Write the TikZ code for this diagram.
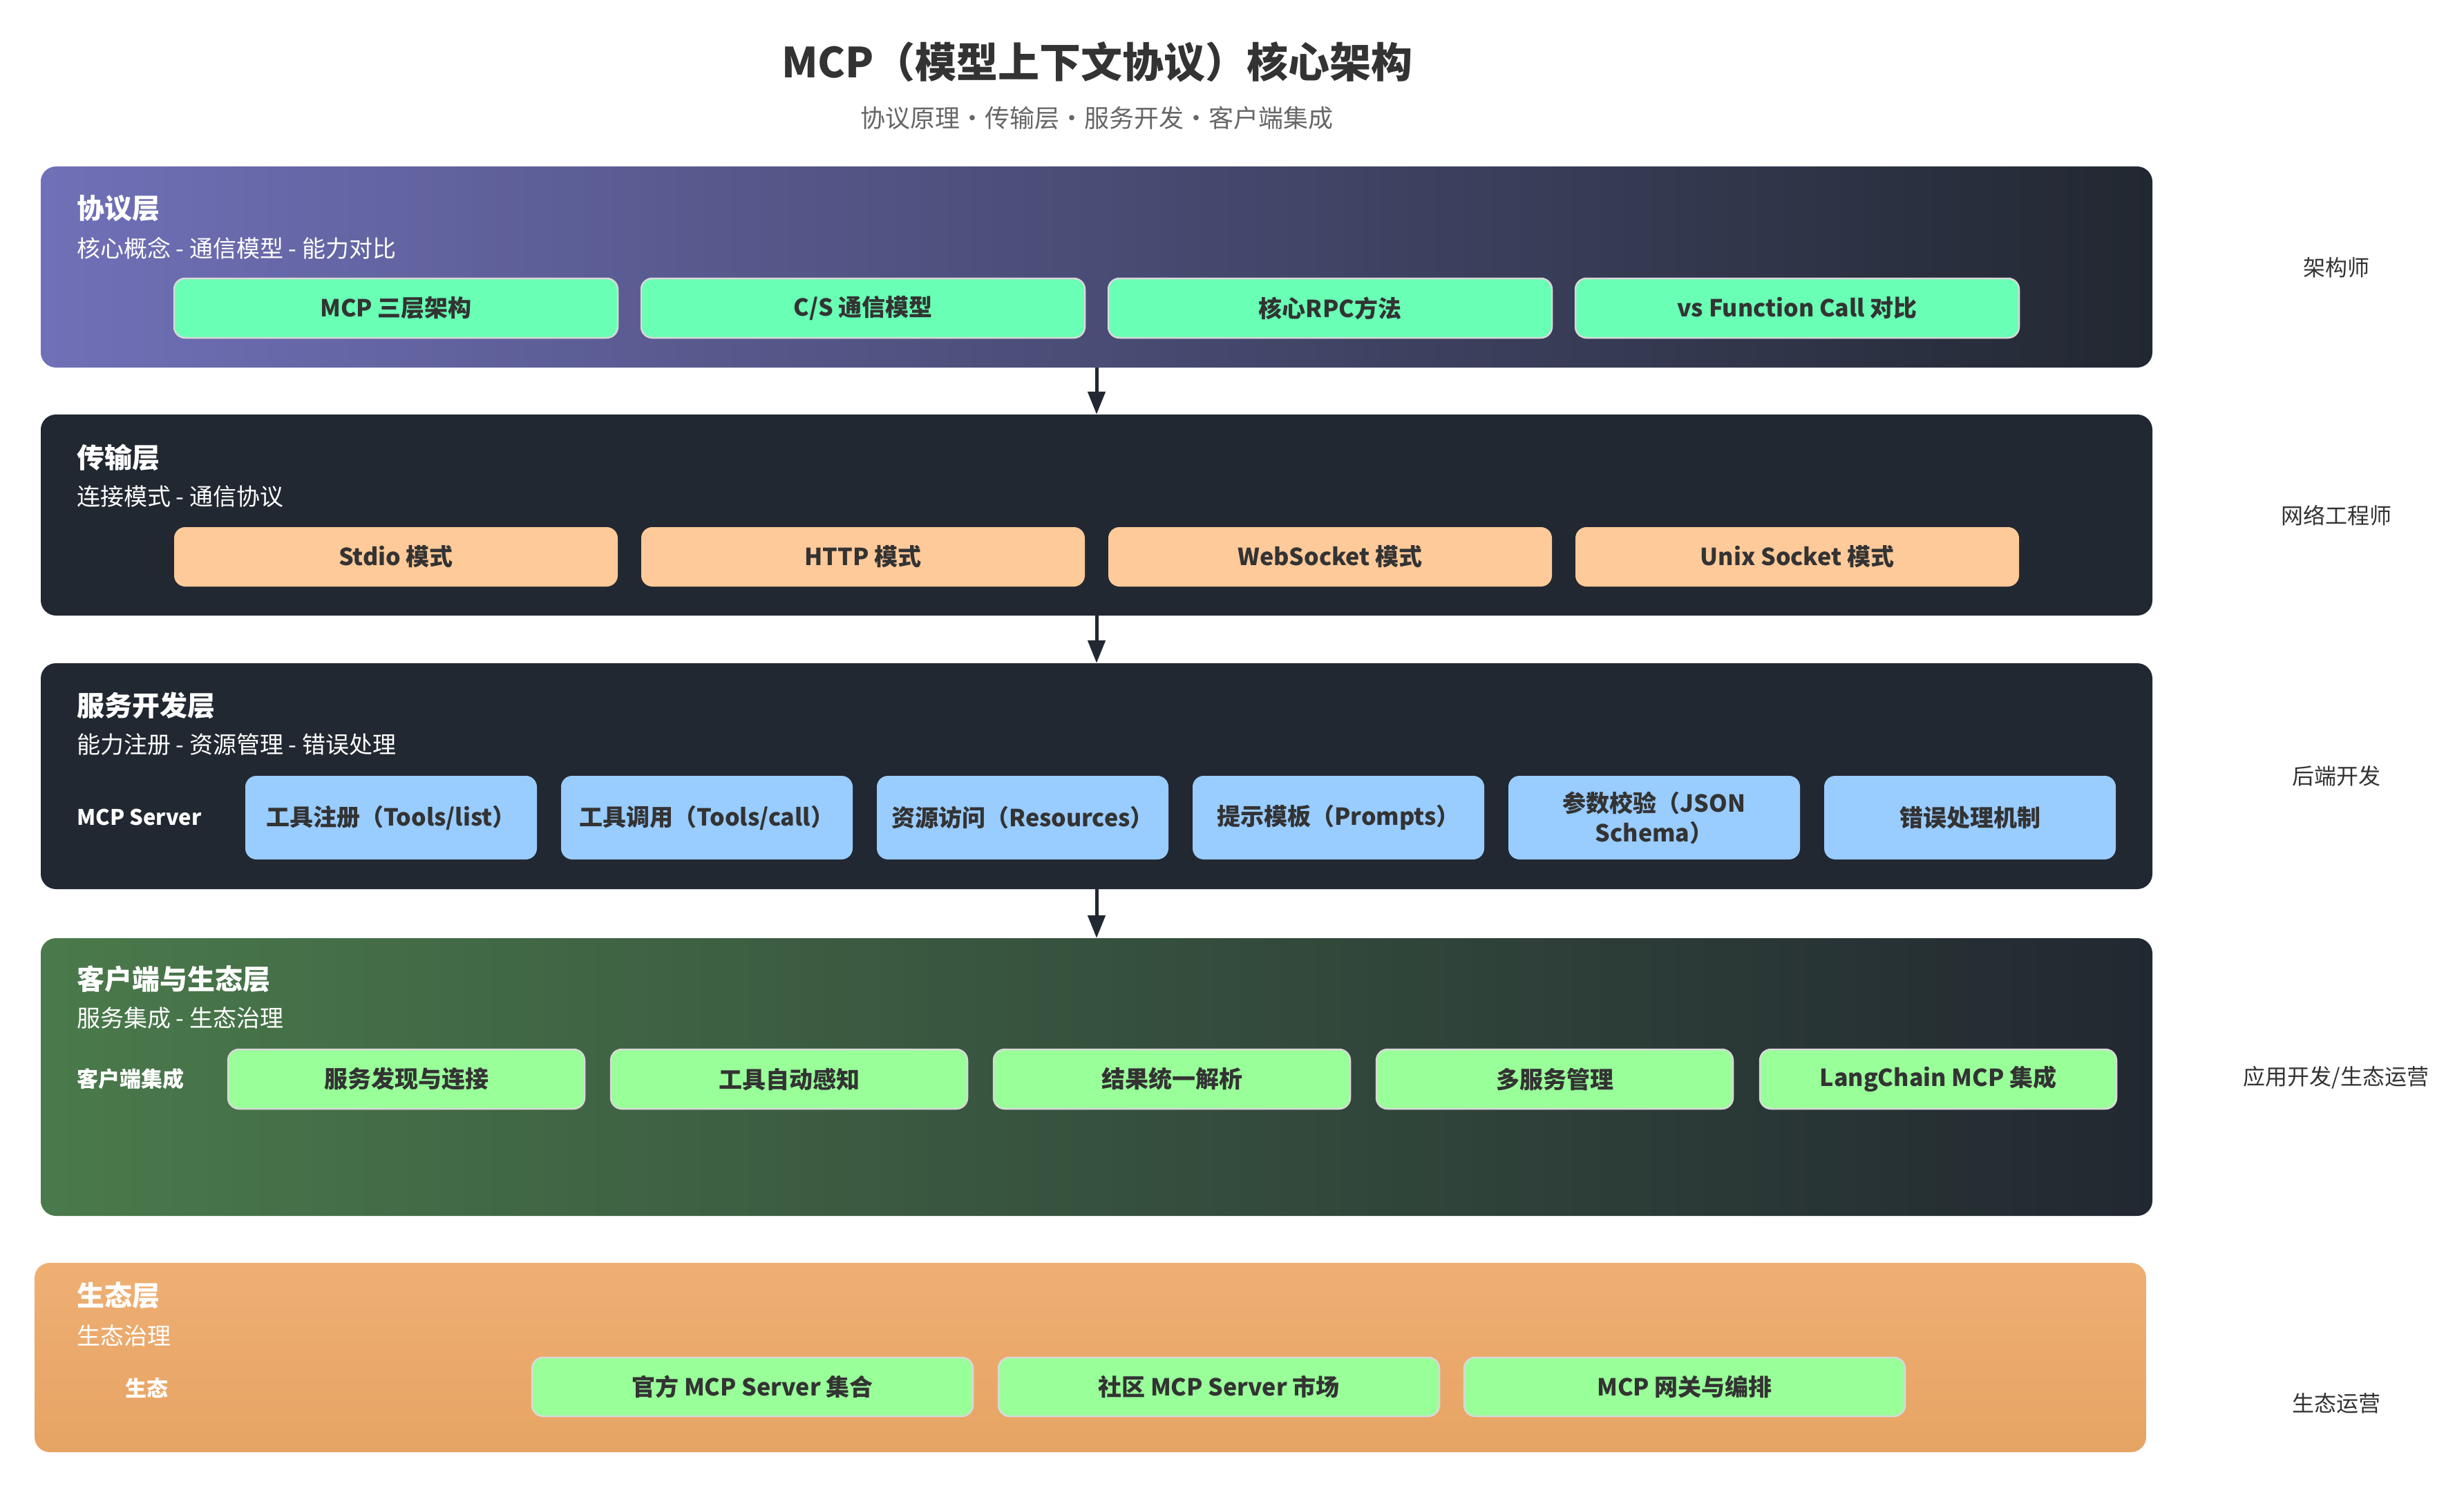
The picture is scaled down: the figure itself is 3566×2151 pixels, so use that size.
\documentclass[tikz,border=0pt]{standalone}
\usepackage{fontspec}
\setmainfont{Noto Sans CJK SC}
\usetikzlibrary{arrows.meta}

\definecolor{ink}{HTML}{333333}
\definecolor{inkgray}{HTML}{666666}
\definecolor{slate}{HTML}{222831}
\definecolor{purp}{HTML}{7070B8}
\definecolor{moss}{HTML}{4A7A4B}
\definecolor{sandtop}{HTML}{EFAF73}
\definecolor{sandbot}{HTML}{E6A464}
\definecolor{mint}{HTML}{69FFB4}
\definecolor{peach}{HTML}{FFCA99}
\definecolor{sky}{HTML}{99CCFF}
\definecolor{lime}{HTML}{99FF99}
\definecolor{rim}{HTML}{D8D8D8}

\tikzset{
  layerbox/.style={rounded corners=22pt, inner sep=0pt, minimum width=3056pt},
  cell/.style={rounded corners=16pt, inner sep=0pt, align=center, text=ink,
    font=\fontsize{34}{43}\selectfont\bfseries},
  rimcell/.style={cell, draw=rim, line width=2.5pt},
  ltitle/.style={anchor=west, inner xsep=0pt, text=white, font=\fontsize{40}{48}\selectfont\bfseries},
  lsub/.style={anchor=west, inner xsep=0pt, text=white, font=\fontsize{34}{40}\selectfont},
  lside/.style={inner xsep=0pt, text=white, font=\fontsize{31}{38}\selectfont\bfseries},
  role/.style={text=ink, font=\fontsize{32}{38}\selectfont},
  flow/.style={draw=slate, line width=5pt, -{Triangle[length=33pt,width=25pt]}},
}

\begin{document}
\begin{tikzpicture}[x=1pt,y=-1pt]
  \fill[white] (0,0) rectangle (3566,2151);
  \useasboundingbox (0,0) rectangle (3566,2151);

  \node[text=ink, font=\fontsize{60}{72}\selectfont\bfseries] (title) at (1588,90)
    {MCP（模型上下文协议）核心架构};
  \node[text=inkgray, font=\fontsize{36}{44}\selectfont] (subtitle) at (1587,171)
    {协议原理•传输层•服务开发•客户端集成};

  \node[layerbox, minimum height=291pt, left color=purp, right color=slate] (l1) at (1587,386.5) {};
  \node[layerbox, minimum height=291pt, fill=slate] (l2) at (1587,745.5) {};
  \node[layerbox, minimum height=327pt, fill=slate] (l3) at (1587,1123.5) {};
  \node[layerbox, minimum height=402pt, left color=moss, right color=slate] (l4) at (1587,1559) {};
  \node[layerbox, minimum height=274pt, top color=sandtop, bottom color=sandbot] (l5) at (1578,1965) {};

  \node[ltitle] (t1) at (111,302) {协议层};
  \node[lsub] (s1) at (111,359) {核心概念 - 通信模型 - 能力对比};
  \node[ltitle] (t2) at (111,662) {传输层};
  \node[lsub] (s2) at (111,719) {连接模式 - 通信协议};
  \node[ltitle] (t3) at (111,1021) {服务开发层};
  \node[lsub] (s3) at (111,1078) {能力注册 - 资源管理 - 错误处理};
  \node[ltitle] (t4) at (111,1417) {客户端与生态层};
  \node[lsub] (s4) at (111,1474) {服务集成 - 生态治理};
  \node[ltitle] (t5) at (111,1875) {生态层};
  \node[lsub] (s5) at (111,1934) {生态治理};

  \begin{scope}[every node/.append style={minimum width=642pt, minimum height=86pt}]
    \node[rimcell, fill=mint] (p1) at (573,446) {MCP 三层架构};
    \node[rimcell, fill=mint] (p2) at (1249,446) {C/S 通信模型};
    \node[rimcell, fill=mint] (p3) at (1925,446) {核心RPC方法};
    \node[rimcell, fill=mint] (p4) at (2601,446) {vs Function Call 对比};
    \node[cell, fill=peach] (c1) at (573,806) {Stdio 模式};
    \node[cell, fill=peach] (c2) at (1249,806) {HTTP 模式};
    \node[cell, fill=peach] (c3) at (1925,806) {WebSocket 模式};
    \node[cell, fill=peach] (c4) at (2601,806) {Unix Socket 模式};
  \end{scope}

  \node[lside, anchor=west] (srv) at (111,1183) {MCP Server};
  \begin{scope}[every node/.append style={minimum width=422pt, minimum height=121pt}]
    \node[cell, fill=sky] (d1) at (566,1183.5) {工具注册（Tools/list）};
    \node[cell, fill=sky] (d2) at (1023,1183.5) {工具调用（Tools/call）};
    \node[cell, fill=sky] (d3) at (1480,1183.5) {资源访问（Resources）};
    \node[cell, fill=sky] (d4) at (1937,1183.5) {提示模板（Prompts）};
    \node[cell, fill=sky] (d5) at (2394,1183.5) {参数校验（JSON\\Schema）};
    \node[cell, fill=sky] (d6) at (2851,1183.5) {错误处理机制};
  \end{scope}

  \node[lside, anchor=west] (cli) at (111,1562) {客户端集成};
  \begin{scope}[every node/.append style={minimum width=516pt, minimum height=86pt}]
    \node[rimcell, fill=lime] (k1) at (588,1562) {服务发现与连接};
    \node[rimcell, fill=lime] (k2) at (1142,1562) {工具自动感知};
    \node[rimcell, fill=lime] (k3) at (1696,1562) {结果统一解析};
    \node[rimcell, fill=lime] (k4) at (2250,1562) {多服务管理};
    \node[rimcell, fill=lime] (k5) at (2805,1562) {LangChain MCP 集成};
  \end{scope}

  \node[lside] (eco) at (212,2009) {生态};
  \begin{scope}[every node/.append style={minimum width=638pt, minimum height=85pt}]
    \node[rimcell, fill=lime] (e1) at (1089,2007.5) {官方 MCP Server 集合};
    \node[rimcell, fill=lime] (e2) at (1764,2007.5) {社区 MCP Server 市场};
    \node[rimcell, fill=lime] (e3) at (2438,2007.5) {MCP 网关与编排};
  \end{scope}

  \node[role] (r1) at (3381,387) {架构师};
  \node[role] (r2) at (3381,746) {网络工程师};
  \node[role] (r3) at (3381,1123) {后端开发};
  \node[role] (r4) at (3381,1560) {应用开发/生态运营};
  \node[role] (r5) at (3381,2031) {生态运营};

  \begin{scope}[flow]
    \draw (l1) -- (l2);
    \draw (l2) -- (l3);
    \draw (l3) -- (l4);
  \end{scope}
\end{tikzpicture}
\end{document}
